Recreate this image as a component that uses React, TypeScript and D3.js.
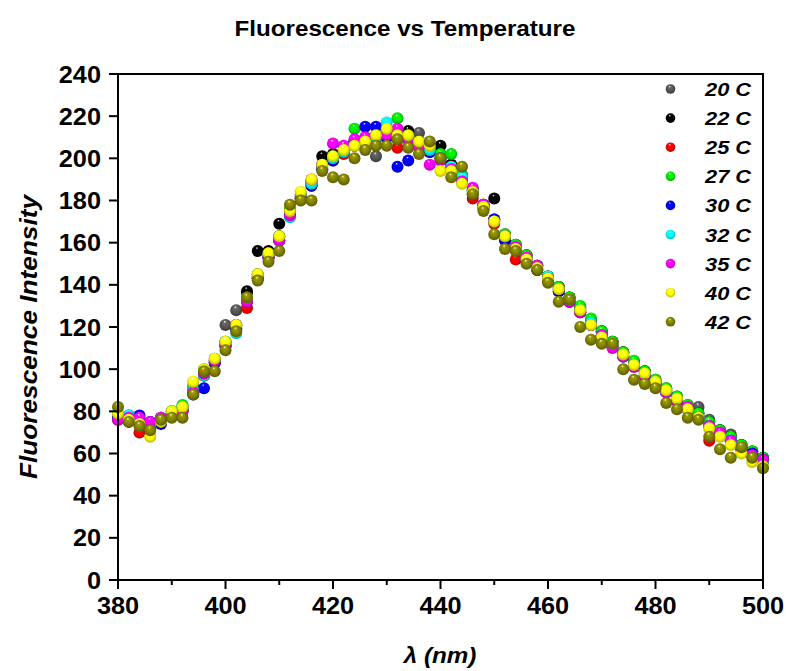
import React from 'react';
import * as d3 from 'd3';

// wavelength grid, nm (one reading every 2 nm)
const wavelengths = d3.range(380, 501, 2);

const temps = ['20 C', '22 C', '25 C', '27 C', '30 C', '32 C', '35 C', '40 C', '42 C'];
const colors = ['#555555', '#000000', '#ff0000', '#00ee00', '#0000ff', '#00ffff', '#ff00ff', '#ffff00', '#808000'];

const t20 = [77, 78, 76, 73, 77, 80, 82, 91, 99, 105, 121, 128, 136, 145, 155, 163, 175, 183, 189, 197, 201, 203, 206, 208, 201, 210, 209, 211, 212, 205, 202, 197, 190, 185, 178, 171, 164, 158, 154, 149, 144, 139, 134, 129, 123, 118, 113, 108, 103, 99, 95, 91, 87, 83, 82, 76, 71, 69, 64, 61, 58];
const t22 = [76, 76, 74, 73, 75, 79, 80, 89, 97, 103, 113, 121, 137, 156, 156, 169, 175, 181, 188, 201, 202, 204, 208, 209, 211, 212, 211, 213, 208, 205, 206, 197, 192, 185, 178, 181, 163, 159, 154, 149, 144, 139, 134, 129, 123, 118, 113, 108, 103, 99, 94, 90, 86, 82, 79, 75, 71, 68, 64, 61, 58];
const t25 = [77, 75, 70, 72, 75, 78, 80, 89, 97, 103, 111, 119, 129, 143, 153, 161, 173, 181, 187, 195, 199, 202, 206, 208, 209, 210, 205, 208, 206, 203, 200, 195, 190, 181, 176, 169, 162, 152, 151, 147, 142, 137, 132, 127, 121, 116, 111, 106, 102, 97, 93, 89, 85, 81, 77, 66, 69, 66, 62, 59, 56];
const t27 = [78, 77, 76, 75, 77, 80, 83, 92, 100, 104, 112, 120, 133, 144, 155, 163, 176, 182, 189, 197, 201, 204, 214, 210, 211, 212, 219, 210, 207, 205, 202, 202, 192, 185, 178, 171, 164, 159, 154, 149, 144, 139, 134, 130, 124, 118, 113, 108, 104, 99, 95, 91, 87, 83, 79, 75, 71, 68, 64, 61, 58];
const t30 = [77, 76, 78, 75, 74, 78, 81, 88, 91, 103, 111, 119, 132, 143, 153, 161, 173, 181, 187, 195, 199, 203, 208, 215, 215, 210, 196, 199, 206, 203, 200, 195, 190, 183, 177, 171, 161, 157, 152, 147, 143, 137, 132, 127, 121, 116, 111, 106, 102, 97, 93, 89, 85, 81, 77, 73, 69, 66, 62, 60, 57];
const t32 = [79, 78, 76, 74, 77, 80, 82, 90, 97, 104, 113, 117, 133, 144, 154, 161, 172, 182, 188, 196, 200, 203, 206, 209, 210, 217, 210, 208, 206, 204, 200, 196, 191, 184, 177, 170, 163, 158, 153, 148, 144, 138, 133, 128, 122, 116, 111, 106, 102, 98, 93, 89, 86, 81, 77, 73, 69, 66, 62, 59, 56];
const t35 = [76, 77, 77, 75, 77, 79, 80, 89, 98, 104, 111, 121, 132, 143, 153, 161, 173, 181, 190, 197, 207, 206, 209, 210, 211, 211, 214, 209, 205, 197, 199, 195, 189, 186, 178, 170, 163, 158, 153, 149, 143, 138, 132, 127, 121, 116, 110, 106, 101, 97, 93, 89, 85, 82, 77, 73, 70, 66, 62, 59, 57];
const t40 = [79, 76, 74, 68, 75, 80, 82, 94, 100, 105, 113, 121, 134, 145, 155, 163, 175, 184, 190, 197, 201, 204, 206, 208, 211, 214, 211, 211, 208, 206, 194, 194, 188, 184, 177, 170, 163, 157, 152, 148, 143, 138, 133, 128, 121, 115, 112, 107, 102, 98, 94, 90, 86, 81, 77, 72, 68, 64, 60, 56, 54];
const t42 = [82, 75, 73, 71, 76, 77, 77, 88, 99, 99, 109, 118, 134, 142, 151, 156, 178, 180, 180, 194, 191, 190, 200, 204, 206, 206, 209, 205, 202, 208, 200, 191, 196, 183, 175, 164, 157, 156, 150, 147, 141, 132, 133, 120, 114, 112, 112, 100, 95, 93, 91, 84, 81, 77, 76, 68, 62, 58, 63, 58, 53];

const series = [t20, t22, t25, t27, t30, t32, t35, t40, t42];

const xTicks = [380, 400, 420, 440, 460, 480, 500];
const xMinor = [390, 410, 430, 450, 470, 490];
const yTicks = [0, 20, 40, 60, 80, 100, 120, 140, 160, 180, 200, 220, 240];

const W = 786;
const H = 671;
const left = 118;
const right = 763;
const top = 74;
const bottom = 580;
const font = '"Liberation Sans", Arial, sans-serif';
const sx = 1.1; // glyphs in the original are a bit wide

const App = () => {
  const x = d3.scaleLinear().domain([380, 500]).range([left, right]);
  const y = d3.scaleLinear().domain([0, 240]).range([bottom, top]);

  return (
    <svg width={W} height={H} style={{ position: 'absolute', left: 0, top: 0, background: '#fff' }} fontFamily={font}>
      <defs>
        {colors.map((c, i) => (
          <radialGradient key={i} id={`ball${i}`} cx="50%" cy="50%" r="55%" fx="42%" fy="22%">
            <stop offset="0%" stopColor="#ffffff" />
            <stop offset="20%" stopColor={d3.color(c)!.brighter(0.6).formatHex()} />
            <stop offset="58%" stopColor={c} />
            <stop offset="100%" stopColor={d3.color(c)!.darker(1.1).formatHex()} />
          </radialGradient>
        ))}
      </defs>

      <g transform={`translate(405,36) scale(${sx},1)`}>
        <text textAnchor="middle" fontSize={22} fontWeight="bold">Fluorescence vs Temperature</text>
      </g>

      {/* markers, warmest series drawn last */}
      {series.map((vals, si) => (
        <g key={si}>
          {vals.map((v, j) => (
            <circle key={j} cx={x(wavelengths[j])} cy={y(v)} r={6} fill={`url(#ball${si})`} />
          ))}
        </g>
      ))}

      {/* frame */}
      <rect x={left} y={top} width={right - left} height={bottom - top} fill="none" stroke="#000" strokeWidth={2} />

      {/* y axis */}
      {yTicks.map((t) => (
        <g key={t}>
          <line x1={left - 9} x2={left} y1={y(t)} y2={y(t)} stroke="#000" strokeWidth={2} />
          <g transform={`translate(101,${y(t) + 8.5}) scale(${sx},1)`}>
            <text textAnchor="end" fontSize={23} fontWeight="bold">{t}</text>
          </g>
        </g>
      ))}

      {/* x axis */}
      {xTicks.map((t) => (
        <g key={t}>
          <line x1={x(t)} x2={x(t)} y1={bottom} y2={bottom + 9} stroke="#000" strokeWidth={2} />
          <g transform={`translate(${x(t)},614) scale(${sx},1)`}>
            <text textAnchor="middle" fontSize={23} fontWeight="bold">{t}</text>
          </g>
        </g>
      ))}
      {xMinor.map((t) => (
        <line key={t} x1={x(t)} x2={x(t)} y1={bottom} y2={bottom + 5} stroke="#000" strokeWidth={2} />
      ))}

      <g transform={`translate(440,663) scale(${sx},1)`}>
        <text textAnchor="middle" fontSize={22} fontWeight="bold" fontStyle="italic">λ (nm)</text>
      </g>
      <g transform={`translate(37,337) rotate(-90) scale(1.14,1)`}>
        <text textAnchor="middle" fontSize={23} fontWeight="bold" fontStyle="italic">Fluorescence Intensity</text>
      </g>

      {/* legend */}
      {temps.map((name, i) => {
        const ly = 89 + i * 29.1;
        return (
          <g key={name}>
            <circle cx={670.5} cy={ly} r={4.8} fill={`url(#ball${i})`} />
            <g transform={`translate(705,${ly + 7}) scale(1.15,1)`}>
              <text fontSize={19} fontWeight="bold" fontStyle="italic">{name}</text>
            </g>
          </g>
        );
      })}
    </svg>
  );
};

export default App;
